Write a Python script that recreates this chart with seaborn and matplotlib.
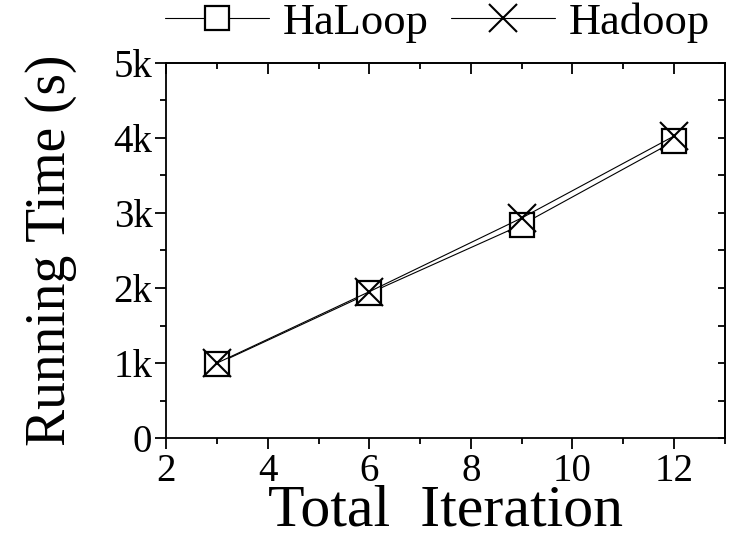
import matplotlib
matplotlib.use("Agg")
import matplotlib.pyplot as plt
from matplotlib.ticker import MultipleLocator
import seaborn as sns
import pandas as pd

iterations = [3, 6, 9, 12]
haloop = [990, 1930, 2840, 3950]
hadoop = [1000, 1950, 2930, 4020]
series_names = ["HaLoop", "Hadoop"]
x_ticks = [2, 4, 6, 8, 10, 12]
y_ticks = [0, 1000, 2000, 3000, 4000, 5000]
y_tick_labels = ["0", "1k", "2k", "3k", "4k", "5k"]

sns.set_theme(style="white")
plt.rcParams["font.family"] = ["Liberation Serif", "DejaVu Serif"]
plt.rcParams["text.color"] = "black"
plt.rcParams["axes.labelcolor"] = "black"
plt.rcParams["xtick.color"] = "black"
plt.rcParams["ytick.color"] = "black"

df = pd.DataFrame({
    "iter": iterations * 2,
    "time": haloop + hadoop,
    "system": [series_names[0]] * 4 + [series_names[1]] * 4,
})

fig = plt.figure(figsize=(7.29, 5.39), dpi=100)
ax = fig.add_axes([0.228, 0.187, 0.766, 0.697])

sns.lineplot(data=df[df.system == "HaLoop"], x="iter", y="time", ax=ax,
             color="black", lw=0.8, marker="s", markersize=17,
             markerfacecolor="white", markeredgecolor="black",
             markeredgewidth=1.6, label="HaLoop")
sns.lineplot(data=df[df.system == "Hadoop"], x="iter", y="time", ax=ax,
             color="black", lw=0.8, marker="x", markersize=20,
             markeredgecolor="black", markeredgewidth=1.5, label="Hadoop")

ax.set_xlim(2, 13)
ax.set_ylim(0, 5000)
ax.set_xticks(x_ticks)
ax.set_yticks(y_ticks)
ax.set_yticklabels(y_tick_labels)
ax.xaxis.set_minor_locator(MultipleLocator(1))
ax.yaxis.set_minor_locator(MultipleLocator(500))

for s in ax.spines.values():
    s.set_visible(True)
    s.set_color("black")
    s.set_linewidth(1.3)

ax.tick_params(axis="both", which="major", direction="out", length=8, width=1.3,
               labelsize=28, colors="black")
ax.tick_params(axis="x", which="major", pad=3)
ax.tick_params(axis="y", which="major", pad=2)
ax.tick_params(axis="both", which="minor", direction="out", length=4, width=1.3,
               colors="black")
ax.tick_params(bottom=True, left=True, which="both")

secx = ax.secondary_xaxis("top")
secx.set_xticks(x_ticks)
secx.xaxis.set_minor_locator(MultipleLocator(1))
secx.tick_params(which="major", direction="in", length=8, width=1.3, labeltop=False)
secx.tick_params(which="minor", direction="in", length=4, width=1.3)
secx.spines["top"].set_linewidth(1.3)

secy = ax.secondary_yaxis("right")
secy.yaxis.set_major_locator(MultipleLocator(500))
secy.tick_params(which="major", direction="in", length=5, width=1.3, labelright=False)
secy.spines["right"].set_linewidth(1.3)

ax.set_xlabel("Total  Iteration", fontsize=43, va="baseline")
ax.xaxis.set_label_coords(0.5, -0.232, transform=ax.transAxes)
ax.set_ylabel("Running Time (s)", fontsize=40, va="baseline")
ax.yaxis.set_label_coords(-0.182, 0.5, transform=ax.transAxes)

ax.get_legend().remove()
handles, labels = ax.get_legend_handles_labels()
fig.legend(handles, labels, loc="center", bbox_to_anchor=(0.6, 0.958), ncol=2,
           frameon=False, fontsize=32, handlelength=2.35, handletextpad=0.3,
           columnspacing=0.5, borderpad=0, borderaxespad=0)

ax.grid(False)
fig.savefig("out.png", dpi=100)
